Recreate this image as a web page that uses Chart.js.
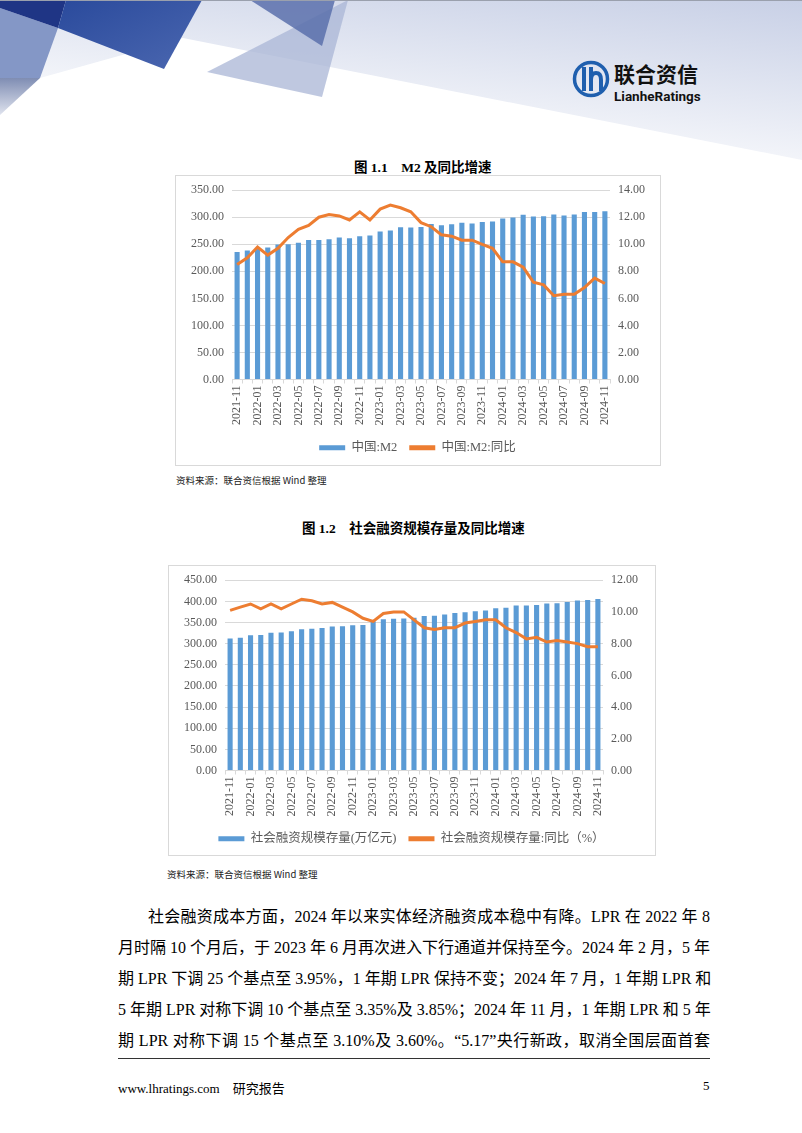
<!DOCTYPE html>
<html>
<head>
<meta charset="utf-8">
<script src="https://cdn.jsdelivr.net/npm/chart.js@4.4.1/dist/chart.umd.min.js"></script>
<style>
  body { margin: 0; background: #fff; }
  .page { position: relative; width: 802px; height: 1133px; overflow: hidden; background: #fff;
          font-family: "Liberation Serif", "Noto Sans CJK SC", serif; color: #000; }
  .abs { position: absolute; white-space: nowrap; }
  .figtitle { font-size: 13.5px; font-weight: bold; }
  .source { font-size: 9.5px; font-family: "Noto Sans CJK SC", sans-serif; color: #222; }
  .box { position: absolute; border: 1px solid #d9d9d9; box-sizing: border-box; }
  .chartwrap { position: absolute; }
  .line { position: absolute; left: 118px; width: 592px; font-size: 16px; line-height: 20px;
          text-align: justify; text-align-last: justify; white-space: nowrap; }
  .line.first { left: 148px; width: 562px; }
</style>
</head>
<body>
<div class="page">
  <svg class="abs" style="left:0;top:0" width="802" height="160">
    <defs>
      <linearGradient id="bg" x1="1" y1="0" x2="0.45" y2="1">
        <stop offset="0" stop-color="#c8d0e6"/>
        <stop offset="1" stop-color="#ffffff"/>
      </linearGradient>
      <linearGradient id="blueg" x1="0" y1="0" x2="1" y2="1">
        <stop offset="0" stop-color="#2a4a9c"/>
        <stop offset="1" stop-color="#4b67b0"/>
      </linearGradient>
      <linearGradient id="grayg" x1="0" y1="0" x2="0" y2="1">
        <stop offset="0" stop-color="#7f8db3"/>
        <stop offset="1" stop-color="#dfe3ee"/>
      </linearGradient>
    </defs>
    <rect x="0" y="0" width="802" height="160" fill="url(#bg)"/>
    <polygon points="0,115 40,78 183,38 802,160 0,160" fill="#ffffff"/>
    <polygon points="0,8 58,28 40,78 0,78" fill="#8497c6"/>
    <polygon points="0,78 40,78 0,115" fill="url(#grayg)"/>
    <polygon points="0,0 66,0 58,28 0,8" fill="#1f3585"/>
    <polygon points="66,0 202,0 164,69 58,28" fill="url(#blueg)"/>
    <polygon points="207,72 348,0 322,97" fill="#a9b5d6" opacity="0.75"/>
    <polygon points="250,0 335,0 322,46" fill="#5b70ab" opacity="0.85"/>
    <line x1="0" y1="0.5" x2="802" y2="0.5" stroke="#9aa0ad" stroke-width="1"/>
    <!-- logo -->
    <circle cx="591" cy="79" r="16.5" fill="none" stroke="#1f5fae" stroke-width="3.5"/>
    <rect x="582" y="67" width="4" height="24" fill="#1f5fae"/>
    <rect x="589" y="67" width="4" height="24" fill="#1f5fae"/>
    <path d="M591 80 Q591 73 596 73 Q601 73 601 80 V91" fill="none" stroke="#1f5fae" stroke-width="4"/>
    <text x="614" y="82" font-family="Noto Sans CJK SC" font-weight="bold" font-size="21" fill="#111">联合资信</text>
    <text x="614" y="101" font-family="Roboto, 'Noto Sans'" font-weight="bold" font-size="13.5" fill="#111">LianheRatings</text>
  </svg>

  <div class="abs figtitle" style="left:354px;top:156px;">图 1.1&nbsp;&nbsp;&nbsp;&nbsp;M2 及同比增速</div>
  <div class="box" style="left:175px;top:175px;width:486px;height:291px;"></div>
  <div class="chartwrap" style="left:175px;top:175px;width:485px;height:290px;"><canvas id="m2Chart"></canvas></div>
  <div class="abs source" style="left:176px;top:473px;">资料来源：联合资信根据 Wind 整理</div>

  <div class="abs figtitle" style="left:302px;top:517px;">图 1.2&nbsp;&nbsp;&nbsp;&nbsp;社会融资规模存量及同比增速</div>
  <div class="box" style="left:168px;top:565px;width:488px;height:291px;"></div>
  <div class="chartwrap" style="left:168px;top:565px;width:487px;height:290px;"><canvas id="tsfChart"></canvas></div>
  <div class="abs source" style="left:167px;top:867px;">资料来源：联合资信根据 Wind 整理</div>

  <div class="line first" style="top:907px;">社会融资成本方面，2024 年以来实体经济融资成本稳中有降。LPR 在 2022 年 8</div>
  <div class="line" style="top:938px;">月时隔 10 个月后，于 2023 年 6 月再次进入下行通道并保持至今。2024 年 2 月，5 年</div>
  <div class="line" style="top:969px;">期 LPR 下调 25 个基点至 3.95%，1 年期 LPR 保持不变；2024 年 7 月，1 年期 LPR 和</div>
  <div class="line" style="top:1000px;">5 年期 LPR 对称下调 10 个基点至 3.35%及 3.85%；2024 年 11 月，1 年期 LPR 和 5 年</div>
  <div class="line" style="top:1031px;">期 LPR 对称下调 15 个基点至 3.10%及 3.60%。“5.17”央行新政，取消全国层面首套</div>

  <div class="abs" style="left:118px;top:1058px;width:592px;height:1px;background:#333;"></div>
  <div class="abs" style="left:118px;top:1078px;font-size:13px;">www.lhratings.com&nbsp;&nbsp;&nbsp;&nbsp;研究报告</div>
  <div class="abs" style="left:703px;top:1078px;font-size:13px;">5</div>
</div>

<script>
const months = [
  '2021-11', '2021-12', '2022-01', '2022-02', '2022-03', '2022-04', '2022-05', '2022-06',
  '2022-07', '2022-08', '2022-09', '2022-10', '2022-11', '2022-12', '2023-01', '2023-02',
  '2023-03', '2023-04', '2023-05', '2023-06', '2023-07', '2023-08', '2023-09', '2023-10',
  '2023-11', '2023-12', '2024-01', '2024-02', '2024-03', '2024-04', '2024-05', '2024-06',
  '2024-07', '2024-08', '2024-09', '2024-10', '2024-11'
];

// 中国:M2 (万亿元) and yoy %
const m2Values = [
  235.6, 238.3, 243.1, 244.1, 249.8, 249.9, 252.7, 258.1,
  257.8, 259.5, 262.7, 261.2, 264.7, 266.4, 273.8, 275.5,
  281.5, 280.9, 282.0, 287.3, 285.4, 286.9, 289.7, 288.2,
  291.0, 292.3, 297.6, 299.6, 304.8, 301.2, 301.8, 305.0,
  303.1, 305.1, 309.5, 309.7, 311.0
];
const m2Yoy = [
  8.5, 9.0, 9.8, 9.2, 9.7, 10.5, 11.1, 11.4,
  12.0, 12.2, 12.1, 11.8, 12.4, 11.8, 12.6, 12.9,
  12.7, 12.4, 11.6, 11.3, 10.7, 10.6, 10.3, 10.3,
  10.0, 9.7, 8.7, 8.7, 8.3, 7.2, 7.0, 6.2,
  6.3, 6.3, 6.8, 7.5, 7.1
];

// 社会融资规模存量 (万亿元) and yoy %
const tsfValues = [
  311.9, 314.1, 320.0, 320.6, 325.6, 326.5, 329.2, 334.3,
  335.2, 337.2, 340.7, 341.4, 343.2, 344.2, 353.0, 357.5,
  359.0, 359.4, 361.4, 365.5, 365.8, 368.7, 372.5, 374.2,
  376.8, 378.1, 383.9, 385.1, 390.3, 390.2, 391.5, 395.1,
  395.7, 398.3, 402.2, 403.4, 405.6
];
const tsfYoy = [
  10.1, 10.3, 10.5, 10.2, 10.5, 10.2, 10.5, 10.8,
  10.7, 10.5, 10.6, 10.3, 10.0, 9.6, 9.4, 9.9,
  10.0, 10.0, 9.5, 9.0, 8.9, 9.0, 9.0, 9.3,
  9.4, 9.5, 9.5, 9.0, 8.7, 8.3, 8.4, 8.1,
  8.2, 8.1, 8.0, 7.8, 7.8
];

const m2LeftAxis = { max: 350, step: 50 };
const m2RightAxis = { max: 14, step: 2 };
const tsfLeftAxis = { max: 450, step: 50 };
const tsfRightAxis = { max: 12, step: 2 };

const barBlue = '#5b9bd5';
const lineOrange = '#ed7d31';
const tickGray = '#595959';
const gridGray = '#d9d9d9';
const chartFont = '"Liberation Serif", "Noto Sans CJK SC", serif';

function makeChart(id, barLabel, lineLabel, bars, line, left, right, sizes) {
  const ctx = document.getElementById(id).getContext('2d');
  return new Chart(ctx, {
    data: {
      labels: months,
      datasets: [
        {
          type: 'line',
          label: lineLabel,
          data: line,
          yAxisID: 'y1',
          borderColor: lineOrange,
          backgroundColor: lineOrange,
          borderWidth: 3,
          pointRadius: 0,
          tension: 0,
          order: 0
        },
        {
          type: 'bar',
          label: barLabel,
          data: bars,
          yAxisID: 'y',
          backgroundColor: barBlue,
          categoryPercentage: 0.5,
          barPercentage: 1.0,
          order: 1
        }
      ]
    },
    options: {
      responsive: true,
      maintainAspectRatio: false,
      animation: false,
      layout: { padding: { top: sizes.top, bottom: sizes.bottom, left: 0, right: 0 } },
      plugins: {
        tooltip: { enabled: false },
        legend: {
          position: 'bottom',
          reverse: true,
          labels: {
            color: tickGray,
            font: { family: chartFont, size: 12.5 },
            boxWidth: 26,
            boxHeight: sizes.boxH,
            padding: 12,
            generateLabels: function (chart) {
              return chart.data.datasets.map(function (ds, i) {
                return {
                  text: ds.label,
                  fillStyle: ds.type === 'bar' ? barBlue : lineOrange,
                  strokeStyle: 'transparent',
                  lineWidth: 0,
                  fontColor: tickGray,
                  datasetIndex: i
                };
              });
            }
          }
        }
      },
      scales: {
        x: {
          offset: true,
          grid: { display: true, drawOnChartArea: false, color: gridGray, tickLength: 4, offset: true },
          border: { color: gridGray },
          afterFit: function (scale) { scale.height = sizes.xH; },
          ticks: {
            autoSkip: false,
            maxRotation: 90,
            minRotation: 90,
            padding: 2,
            color: tickGray,
            font: { family: chartFont, size: 12 },
            callback: function (value, index) {
              return index % 2 === 0 ? months[index] : '';
            }
          }
        },
        y: {
          position: 'left',
          min: 0,
          max: left.max,
          afterFit: function (scale) { scale.width = sizes.leftW; },
          grid: { color: gridGray, lineWidth: 1, drawTicks: false },
          border: { display: false },
          ticks: {
            stepSize: left.step,
            padding: 8,
            color: tickGray,
            font: { family: chartFont, size: 12 },
            callback: function (v) { return v.toFixed(2); }
          }
        },
        y1: {
          position: 'right',
          min: 0,
          max: right.max,
          afterFit: function (scale) { scale.width = sizes.rightW; },
          grid: { display: false, drawTicks: false },
          border: { display: false },
          ticks: {
            stepSize: right.step,
            padding: 8,
            color: tickGray,
            font: { family: chartFont, size: 12 },
            callback: function (v) { return v.toFixed(2); }
          }
        }
      }
    }
  });
}

makeChart('m2Chart', '中国:M2', '中国:M2:同比', m2Values, m2Yoy, m2LeftAxis, m2RightAxis,
  { top: 14, bottom: 1, xH: 50, leftW: 57, rightW: 50, boxH: 5 });
makeChart('tsfChart', '社会融资规模存量(万亿元)', '社会融资规模存量:同比（%）', tsfValues, tsfYoy, tsfLeftAxis, tsfRightAxis,
  { top: 15, bottom: 0, xH: 50, leftW: 57, rightW: 52, boxH: 5 });
</script>
</body>
</html>
